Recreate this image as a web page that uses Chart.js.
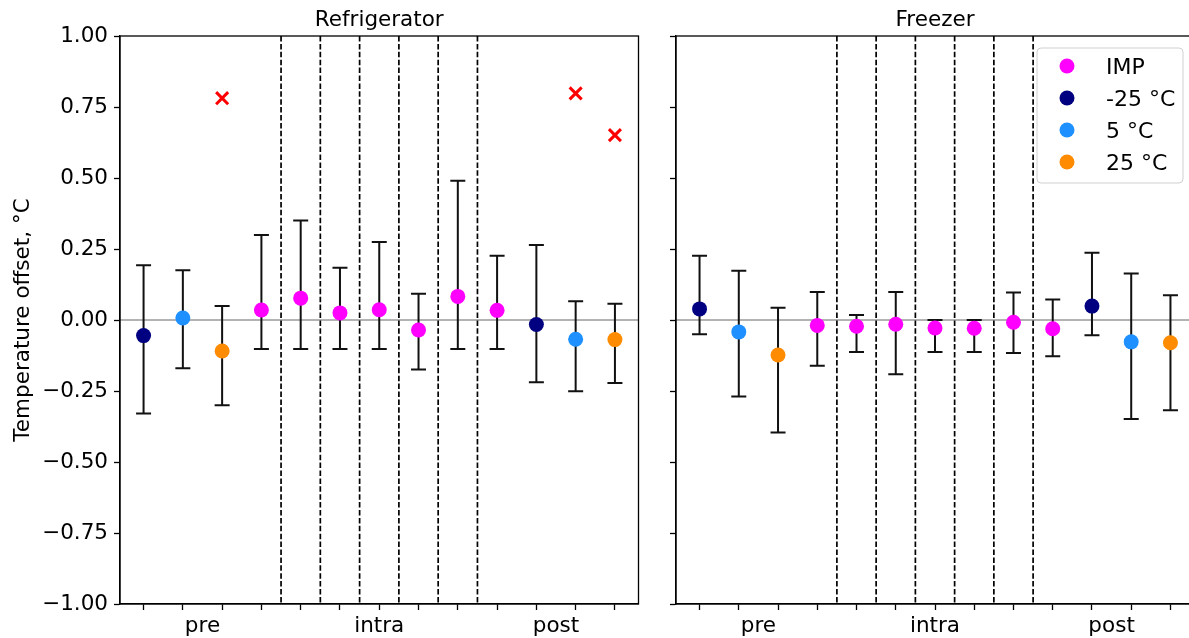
<!DOCTYPE html>
<html><head><meta charset="utf-8">
<script src="https://cdn.jsdelivr.net/npm/chart.js@4.4.0/dist/chart.umd.min.js"></script>
<style>
html,body{margin:0;padding:0;background:#fff;overflow:hidden;width:1189px;height:638px;position:relative;}
#c1{position:absolute;left:0;top:0;}
#c2{position:absolute;left:645px;top:0;}
</style></head><body>
<canvas id="c1" width="650" height="638"></canvas>
<canvas id="c2" width="560" height="638"></canvas>
<script>
// ---------- data ----------
const positions = [0,1,2,3,4,5,6,7,8,9,10,11,12];
const groups = ['-25 °C','5 °C','25 °C','IMP','IMP','IMP','IMP','IMP','IMP','IMP','-25 °C','5 °C','25 °C'];
const fridgeMean = [-0.055,0.007,-0.109,0.035,0.077,0.025,0.036,-0.035,0.083,0.034,-0.016,-0.068,-0.069];
const fridgeLow  = [-0.329,-0.170,-0.300,-0.102,-0.102,-0.102,-0.102,-0.174,-0.102,-0.102,-0.219,-0.251,-0.222];
const fridgeHigh = [0.193,0.175,0.049,0.299,0.350,0.184,0.275,0.092,0.490,0.226,0.264,0.066,0.057];
const fridgeOutlierX = [2,11,12];
const fridgeOutlierY = [0.781,0.798,0.651];
const freezerMean = [0.039,-0.042,-0.123,-0.019,-0.022,-0.015,-0.028,-0.029,-0.008,-0.031,0.049,-0.077,-0.080];
const freezerLow  = [-0.050,-0.269,-0.396,-0.161,-0.113,-0.191,-0.113,-0.113,-0.116,-0.128,-0.054,-0.349,-0.318];
const freezerHigh = [0.226,0.173,0.043,0.099,0.018,0.099,0.000,0.000,0.097,0.072,0.237,0.164,0.087];
const freezerOutlierX = [];
const freezerOutlierY = [];
const seriesNames  = ['IMP','-25 °C','5 °C','25 °C'];
const seriesColors = ['#ff00ff','#000080','#1e90ff','#ff8c00'];
const phaseValues = [1.5, 6, 10.5];
const phaseNames  = ['pre','intra','post'];
const dividers = [3.5,4.5,5.5,6.5,7.5,8.5];
const yTickValues = [-1,-0.75,-0.5,-0.25,0,0.25,0.5,0.75,1];
const panelTitles = ['Refrigerator','Freezer'];
const yAxisTitle = 'Temperature offset, °C';

// ---------- helpers ----------
const FONT = 'DejaVu Sans';
const FS = 21.5;
const fmtY = v => (v < 0 ? '\u2212' : '') + Math.abs(v).toFixed(2);

function makePanel(canvasId, title, mean, low, high, outX, outY, isLeft, showLegend) {
  const datasets = seriesNames.map((name, k) => ({
    label: name,
    data: positions.filter(i => groups[i] === name).map(i => ({x: positions[i], y: mean[i]})),
    backgroundColor: seriesColors[k],
    borderWidth: 0,
    pointRadius: 7.5,
    pointHoverRadius: 7.5,
    showLine: false
  }));
  datasets.push({
    label: 'outlier',
    data: outX.map((x, i) => ({x: x, y: outY[i]})),
    pointStyle: 'crossRot',
    pointRadius: 8.5,
    pointHoverRadius: 8.5,
    borderColor: '#ff0000',
    backgroundColor: '#ff0000',
    borderWidth: 3,
    showLine: false
  });

  const xTicks = Array.from(new Set(positions.concat(phaseValues))).sort((a,b)=>a-b);

  const panelPlugin = {
    id: 'panel_' + canvasId,
    beforeDatasetsDraw(chart) {
      const ctx = chart.ctx, a = chart.chartArea;
      const xs = chart.scales.x, ys = chart.scales.y;
      ctx.save();
      // zero line
      ctx.strokeStyle = 'rgba(0,0,0,0.6)';
      ctx.lineWidth = 1;
      const y0 = ys.getPixelForValue(0);
      ctx.beginPath(); ctx.moveTo(a.left, y0); ctx.lineTo(a.right, y0); ctx.stroke();
      // dividers
      ctx.strokeStyle = '#000';
      ctx.lineWidth = 1.7;
      ctx.setLineDash([5.5, 2.4]);
      dividers.forEach(d => {
        const px = xs.getPixelForValue(d);
        ctx.beginPath(); ctx.moveTo(px, a.top); ctx.lineTo(px, a.bottom); ctx.stroke();
      });
      ctx.setLineDash([]);
      // error bars
      ctx.strokeStyle = '#111';
      ctx.lineWidth = 2;
      const cap = 7.5;
      positions.forEach((p, i) => {
        const px = xs.getPixelForValue(p);
        const yl = ys.getPixelForValue(low[i]);
        const yh = ys.getPixelForValue(high[i]);
        ctx.beginPath();
        ctx.moveTo(px, yl); ctx.lineTo(px, yh);
        ctx.moveTo(px - cap, yl); ctx.lineTo(px + cap, yl);
        ctx.moveTo(px - cap, yh); ctx.lineTo(px + cap, yh);
        ctx.stroke();
      });
      ctx.restore();
    },
    afterDraw(chart) {
      const ctx = chart.ctx, a = chart.chartArea;
      ctx.save();
      // frame
      ctx.strokeStyle = '#000';
      ctx.lineWidth = 1.3;
      ctx.strokeRect(a.left, a.top, a.right - a.left, a.bottom - a.top);
      // title
      ctx.fillStyle = '#000';
      ctx.font = FS + 'px "' + FONT + '"';
      ctx.textAlign = 'center';
      ctx.textBaseline = 'alphabetic';
      ctx.fillText(title, (a.left + a.right) / 2, 26);
      // legend
      if (showLegend) {
        const bx = a.right - 157, by = a.top + 12, bw = 146, bh = 135;
        ctx.fillStyle = 'rgba(255,255,255,0.85)';
        ctx.strokeStyle = '#d0d0d0';
        ctx.lineWidth = 1;
        ctx.beginPath();
        if (ctx.roundRect) ctx.roundRect(bx, by, bw, bh, 4); else ctx.rect(bx, by, bw, bh);
        ctx.fill(); ctx.stroke();
        ctx.font = '22px "' + FONT + '"';
        seriesNames.forEach((name, k) => {
          const cy = by + 18 + k * 32;
          ctx.fillStyle = seriesColors[k];
          ctx.beginPath(); ctx.arc(bx + 30, cy, 7.5, 0, Math.PI * 2); ctx.fill();
          ctx.fillStyle = '#000';
          ctx.textAlign = 'left';
          ctx.textBaseline = 'alphabetic';
          ctx.fillText(name, bx + 69, cy + 8);
        });
      }
      ctx.restore();
    }
  };

  return new Chart(document.getElementById(canvasId), {
    type: 'scatter',
    data: { datasets },
    options: {
      responsive: false,
      animation: false,
      events: [],
      devicePixelRatio: 1,
      layout: { padding: { left: 0, right: isLeft ? 0 : 11, top: 36, bottom: 0 } },
      plugins: { legend: { display: false }, tooltip: { enabled: false }, title: { display: false } },
      scales: {
        x: {
          type: 'linear', min: -0.6, max: 12.6,
          afterBuildTicks: s => { s.ticks = xTicks.map(v => ({ value: v })); },
          afterFit: s => { s.height = 34; },
          ticks: {
            autoSkip: false, maxRotation: 0, minRotation: 0, padding: 4,
            color: '#000', font: { family: FONT, size: FS },
            callback: v => { const j = phaseValues.indexOf(v); return j >= 0 ? phaseNames[j] : ''; }
          },
          grid: {
            drawOnChartArea: false, tickLength: 6, tickWidth: 1.3,
            tickColor: c => (c.tick && Number.isInteger(c.tick.value)) ? '#000' : 'rgba(0,0,0,0)'
          },
          border: { display: true, color: '#000', width: 1.3 }
        },
        y: {
          type: 'linear', min: -1, max: 1,
          afterBuildTicks: s => { s.ticks = yTickValues.map(v => ({ value: v })); },
          afterFit: s => { s.width = isLeft ? 120 : 31; },
          ticks: {
            padding: 6, color: '#000', font: { family: FONT, size: FS },
            callback: v => isLeft ? fmtY(v) : ''
          },
          grid: { drawOnChartArea: false, tickLength: 6, tickWidth: 1.3, tickColor: '#000' },
          border: { display: true, color: '#000', width: 1.3 },
          title: {
            display: isLeft, text: yAxisTitle, color: '#000',
            font: { family: FONT, size: FS }, padding: { top: 11, bottom: 0 }
          }
        }
      }
    },
    plugins: [panelPlugin]
  });
}

makePanel('c1', panelTitles[0], fridgeMean, fridgeLow, fridgeHigh, fridgeOutlierX, fridgeOutlierY, true, false);
makePanel('c2', panelTitles[1], freezerMean, freezerLow, freezerHigh, freezerOutlierX, freezerOutlierY, false, true);
</script>
</body></html>
